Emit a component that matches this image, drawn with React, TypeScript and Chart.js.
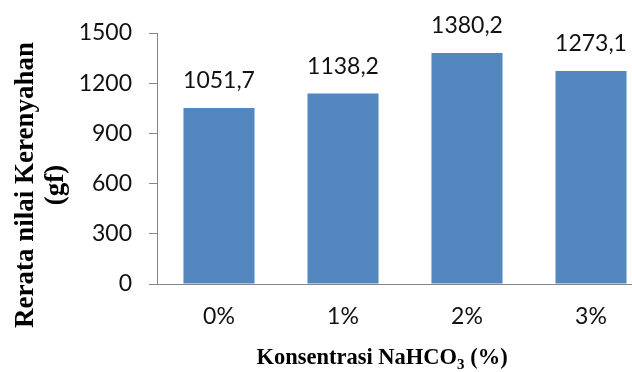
import React, { useEffect, useRef } from "react";
import { Chart, registerables } from "chart.js";

Chart.register(...registerables);

const categories: string[] = ["0%", "1%", "2%", "3%"];
const values: number[] = [1051.7, 1138.2, 1380.2, 1273.1];
const yMin = 0;
const yMax = 1500;
const yStep = 300;
const yTitleLines: string[] = ["Rerata nilai Kerenyahan", "(gf)"];
const xTitleMain = "Konsentrasi NaHCO";
const xTitleSub = "3";
const xTitleTail = " (%)";

const BAR_COLOR = "#5486C0";
const AXIS_COLOR = "#868686";
const TEXT_COLOR = "#111111";
const SANS = "Lato, 'Open Sans', sans-serif";
const SERIF = "'Liberation Serif', 'DejaVu Serif', serif";
const LABEL_SIZE = 23;

const formatValue = (v: number) => v.toFixed(1).replace(".", ",");

// Value labels above each bar
const valueLabelPlugin = {
  id: "valueLabels",
  afterDatasetsDraw(chart: any) {
    const ctx = chart.ctx;
    const meta = chart.getDatasetMeta(0);
    ctx.save();
    ctx.font = `${LABEL_SIZE}px ${SANS}`;
    ctx.fillStyle = TEXT_COLOR;
    ctx.textAlign = "center";
    ctx.textBaseline = "alphabetic";
    meta.data.forEach((bar: any, i: number) => {
      ctx.fillText(formatValue(values[i]), bar.x, bar.y - 20);
    });
    ctx.restore();
  },
};

// Axis titles (serif, bold, with subscript in the x title)
const axisTitlePlugin = {
  id: "axisTitles",
  afterDraw(chart: any) {
    const ctx = chart.ctx;
    ctx.save();
    ctx.fillStyle = "#000000";

    // y title, two rotated lines
    ctx.font = `bold 27px ${SERIF}`;
    ctx.textAlign = "center";
    ctx.textBaseline = "alphabetic";
    const yCenter = 185;
    const baselines = [33, 63];
    yTitleLines.forEach((line, i) => {
      ctx.save();
      ctx.translate(baselines[i], yCenter);
      ctx.rotate(-Math.PI / 2);
      ctx.fillText(line, 0, 0);
      ctx.restore();
    });

    // x title with subscript
    ctx.textAlign = "left";
    const mainFont = `bold 22.5px ${SERIF}`;
    const subFont = `bold 15px ${SERIF}`;
    const baseY = 364;
    ctx.font = mainFont;
    const wMain = ctx.measureText(xTitleMain).width;
    ctx.font = subFont;
    const wSub = ctx.measureText(xTitleSub).width;
    ctx.font = mainFont;
    const wTail = ctx.measureText(xTitleTail).width;
    const total = wMain + wSub + wTail;
    let x = 382 - total / 2;
    ctx.fillText(xTitleMain, x, baseY);
    x += wMain;
    ctx.font = subFont;
    ctx.fillText(xTitleSub, x, baseY + 5);
    x += wSub;
    ctx.font = mainFont;
    ctx.fillText(xTitleTail, x, baseY);
    ctx.restore();
  },
};

export default function App() {
  const canvasRef = useRef<HTMLCanvasElement | null>(null);

  useEffect(() => {
    const canvas = canvasRef.current;
    if (!canvas) return;
    const chart = new Chart(canvas, {
      type: "bar",
      data: {
        labels: categories,
        datasets: [
          {
            data: values,
            backgroundColor: BAR_COLOR,
            borderWidth: 0,
            barPercentage: 0.573,
            categoryPercentage: 1,
          },
        ],
      },
      options: {
        responsive: false,
        animation: false,
        devicePixelRatio: 1,
        layout: { padding: { left: 0, right: 7, top: 33, bottom: 0 } },
        plugins: {
          legend: { display: false },
          tooltip: { enabled: false },
          title: { display: false },
        },
        scales: {
          x: {
            offset: true,
            grid: { display: false, drawTicks: false },
            border: { display: true, color: AXIS_COLOR, width: 1 },
            ticks: {
              color: TEXT_COLOR,
              font: { family: SANS, size: LABEL_SIZE },
              padding: 19,
              maxRotation: 0,
              autoSkip: false,
            },
            afterFit: (scale: any) => {
              scale.height = 88;
            },
          },
          y: {
            min: yMin,
            max: yMax,
            grid: {
              display: true,
              drawOnChartArea: false,
              drawTicks: true,
              tickLength: 8,
              color: AXIS_COLOR,
            },
            border: { display: true, color: AXIS_COLOR, width: 1 },
            ticks: {
              stepSize: yStep,
              color: TEXT_COLOR,
              font: { family: SANS, size: LABEL_SIZE },
              padding: 17,
              callback: (value: any) => String(value),
            },
            afterFit: (scale: any) => {
              scale.width = 157;
            },
          },
        },
      },
      plugins: [valueLabelPlugin, axisTitlePlugin],
    });
    return () => chart.destroy();
  }, []);

  return (
    <div
      style={{
        position: "absolute",
        left: 0,
        top: 0,
        width: 632,
        height: 372,
        overflow: "hidden",
        background: "#ffffff",
      }}
    >
      <canvas
        ref={canvasRef}
        width={660}
        height={372}
        style={{ display: "block" }}
      />
    </div>
  );
}
